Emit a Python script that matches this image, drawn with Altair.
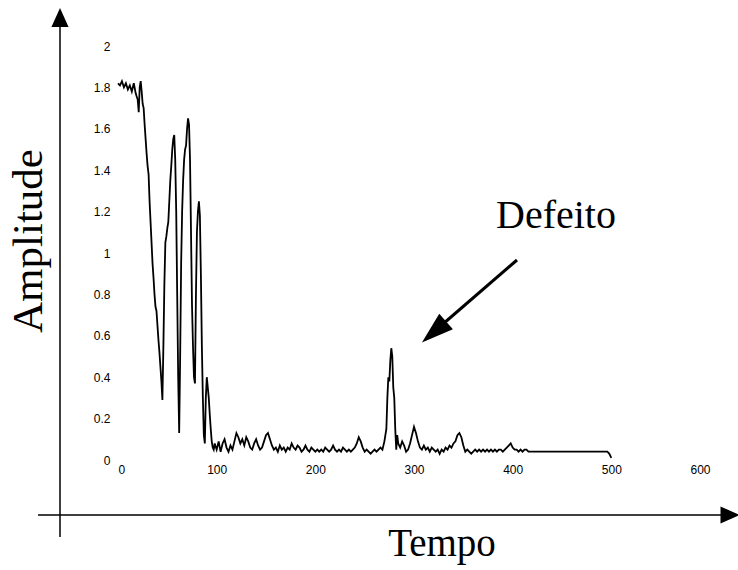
import altair as alt
import pandas as pd

# Time samples (x) and amplitude (y)
tempo = [0, 2, 4, 6, 8, 10, 12, 14, 16, 18, 20, 21, 22, 23, 24, 25, 26, 27, 28, 29,
         30, 31, 32, 33, 34, 35, 36, 37, 38, 39, 40, 41, 42, 43, 44, 45, 46, 47, 48, 49,
         50, 51, 52, 53, 54, 55, 56, 57, 58, 59, 60, 61, 62, 63, 64, 65, 66, 67, 68, 69,
         70, 71, 72, 73, 74, 75, 76, 77, 78, 79, 80, 81, 82, 83, 84, 85, 86, 87, 88, 89,
         90, 91, 92, 93, 94, 95, 96, 97, 98,
         100, 102, 104, 106, 108, 110, 112, 114, 116, 118, 120, 122, 124, 126, 128,
         130, 132, 134, 136, 138, 140, 142, 144, 146, 148, 150, 152, 154, 156, 158,
         160, 162, 164, 166, 168, 170, 172, 174, 176, 178, 180, 182, 184, 186, 188,
         190, 192, 194, 196, 198, 200, 202, 204, 206, 208, 210, 212, 214, 216, 218,
         220, 222, 224, 226, 228, 230, 232, 234, 236, 238, 240, 242, 244, 246, 248,
         250, 252, 254, 256, 258, 260, 262, 264, 266, 268, 270, 272, 273, 274, 275,
         276, 277, 278, 279, 280, 281, 282, 283, 284, 286, 288, 290, 292, 294, 296,
         298, 300, 302, 304, 306, 308, 310, 312, 314, 316, 318, 320, 322, 324, 326,
         328, 330, 332, 334, 336, 338, 340, 342, 344, 346, 348, 350, 352, 354, 356,
         358, 360, 362, 364, 366, 368, 370, 372, 374, 376, 378, 380, 382, 384, 386,
         388, 390, 392, 394, 396, 398, 400, 402, 404, 406, 408, 410, 412, 414, 416,
         420, 426, 432, 438, 444, 450, 456, 462, 468, 474, 480, 486, 492, 496, 498, 500]
amplitude = [1.82, 1.81, 1.83, 1.80, 1.82, 1.79, 1.81, 1.78, 1.82, 1.77, 1.74, 1.68, 1.80, 1.83, 1.78, 1.72, 1.70, 1.62, 1.55, 1.48,
             1.42, 1.38, 1.25, 1.15, 1.05, 0.95, 0.88, 0.80, 0.74, 0.72, 0.65, 0.58, 0.52, 0.45, 0.38, 0.29, 0.55, 0.85, 1.05, 1.08,
             1.12, 1.15, 1.25, 1.35, 1.42, 1.50, 1.55, 1.57, 1.45, 1.20, 0.80, 0.40, 0.13, 0.50, 0.95, 1.20, 1.35, 1.45, 1.50, 1.52,
             1.60, 1.65, 1.62, 1.45, 1.10, 0.75, 0.55, 0.40, 0.37, 0.80, 1.10, 1.20, 1.25, 1.18, 0.90, 0.55, 0.30, 0.12, 0.08, 0.30,
             0.40, 0.35, 0.30, 0.22, 0.15, 0.09, 0.06, 0.05, 0.08,
             0.05, 0.09, 0.04, 0.08, 0.10, 0.06, 0.04, 0.07, 0.05, 0.09, 0.13, 0.11, 0.08, 0.10, 0.07,
             0.11, 0.09, 0.06, 0.05, 0.08, 0.10, 0.07, 0.05, 0.06, 0.09, 0.12, 0.13, 0.10, 0.07, 0.05,
             0.06, 0.04, 0.07, 0.05, 0.06, 0.04, 0.06, 0.05, 0.08, 0.06, 0.05, 0.07, 0.06, 0.04, 0.05,
             0.07, 0.05, 0.04, 0.06, 0.05, 0.04, 0.05, 0.04, 0.05, 0.04, 0.06, 0.05, 0.04, 0.05, 0.07,
             0.05, 0.04, 0.05, 0.04, 0.06, 0.05, 0.04, 0.05, 0.04, 0.05, 0.06, 0.08, 0.11, 0.09, 0.06,
             0.04, 0.05, 0.04, 0.03, 0.04, 0.05, 0.04, 0.05, 0.06, 0.05, 0.09, 0.15, 0.30, 0.40, 0.38,
             0.48, 0.54, 0.50, 0.35, 0.30, 0.15, 0.05, 0.12, 0.08, 0.06, 0.09, 0.07, 0.04, 0.05, 0.08,
             0.12, 0.16, 0.13, 0.09, 0.06, 0.05, 0.07, 0.05, 0.06, 0.04, 0.06, 0.05, 0.04, 0.05, 0.03,
             0.05, 0.04, 0.06, 0.05, 0.07, 0.06, 0.08, 0.09, 0.12, 0.13, 0.11, 0.07, 0.04, 0.05, 0.04,
             0.03, 0.04, 0.05, 0.04, 0.05, 0.04, 0.05, 0.04, 0.05, 0.04, 0.05, 0.04, 0.05, 0.04, 0.05,
             0.05, 0.04, 0.05, 0.06, 0.07, 0.08, 0.06, 0.05, 0.05, 0.04, 0.05, 0.04, 0.05, 0.05, 0.04,
             0.04, 0.04, 0.04, 0.04, 0.04, 0.04, 0.04, 0.04, 0.04, 0.04, 0.04, 0.04, 0.04, 0.04, 0.03, 0.01]

x_ticks = [0, 100, 200, 300, 400, 500, 600]
y_ticks = [0, 0.2, 0.4, 0.6, 0.8, 1, 1.2, 1.4, 1.6, 1.8, 2]

y_title = "Amplitude"
x_title = "Tempo"
note = "Defeito"

df = pd.DataFrame({"t": tempo, "a": amplitude})
one = pd.DataFrame({"k": [0]})

line = alt.Chart(df).mark_line(color="black", strokeWidth=1.8).encode(
    x=alt.X("t:Q", scale=alt.Scale(domain=[0, 600], nice=False),
            axis=alt.Axis(values=x_ticks, format="d", title=None, domain=False, ticks=False,
                          grid=False, labelPadding=4, labelFontSize=12, labelColor="black",
                          labelFont="Liberation Sans")),
    y=alt.Y("a:Q", scale=alt.Scale(domain=[0, 2], nice=False),
            axis=alt.Axis(values=y_ticks, format="~g", title=None, domain=False, ticks=False,
                          grid=False, labelPadding=8, labelFontSize=12, labelColor="black",
                          labelFont="Liberation Sans")),
)

# Hand-drawn style axis arrows
v_rule = alt.Chart(one).mark_rule(color="black", strokeWidth=1.5).encode(
    x=alt.value(-58), y=alt.value(-26), y2=alt.value(491))
h_rule = alt.Chart(one).mark_rule(color="black", strokeWidth=1.5).encode(
    x=alt.value(-80), x2=alt.value(606), y=alt.value(469))
head_path = "M0,-1L-0.9,1L0.9,1Z"
v_head = alt.Chart(one).mark_point(shape=head_path, filled=True, color="black", opacity=1,
                                   size=361, strokeWidth=0).encode(
    x=alt.value(-58), y=alt.value(-28.5))
h_head = alt.Chart(one).mark_point(shape=head_path, filled=True, color="black", opacity=1,
                                   size=361, strokeWidth=0, angle=90).encode(
    x=alt.value(612), y=alt.value(469))

# Defeito arrow
d_rule = alt.Chart(one).mark_rule(color="black", strokeWidth=3).encode(
    x=alt.value(399), y=alt.value(214), x2=alt.value(318), y2=alt.value(284))
d_head = alt.Chart(one).mark_point(shape="M0,-1L-0.65,1L0.65,1Z", filled=True, color="black",
                                   opacity=1, size=1024, strokeWidth=0, angle=229).encode(
    x=alt.value(316), y=alt.value(286))

t_y = alt.Chart(one).mark_text(text=y_title, font="Liberation Serif", fontSize=43, angle=270,
                               align="center", baseline="middle", color="black").encode(
    x=alt.value(-89), y=alt.value(195))
t_x = alt.Chart(one).mark_text(text=x_title, font="Liberation Serif", fontSize=39,
                               align="center", baseline="alphabetic", color="black").encode(
    x=alt.value(324), y=alt.value(510))
t_note = alt.Chart(one).mark_text(text=note, font="Liberation Serif", fontSize=40,
                                  align="center", baseline="alphabetic", color="black").encode(
    x=alt.value(438), y=alt.value(182))

chart = alt.layer(line, v_rule, h_rule, v_head, h_head, d_rule, d_head, t_y, t_x, t_note).properties(
    width=592, height=414,
    autosize=alt.AutoSizeParams(type="none"),
    padding={"left": 118, "top": 46, "right": 28, "bottom": 110},
    background="white",
).configure_view(stroke=None)

chart.save("out.html", embed_options={"renderer": "svg", "actions": False})
